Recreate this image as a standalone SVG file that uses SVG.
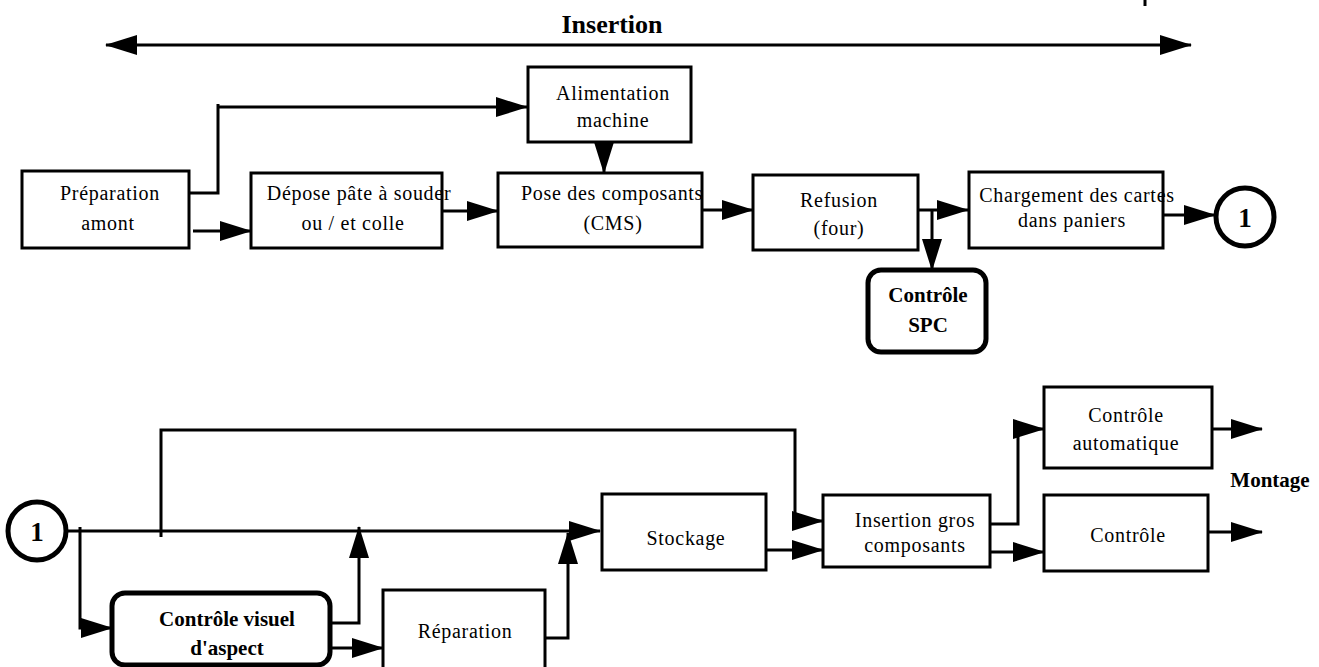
<svg xmlns="http://www.w3.org/2000/svg" width="1319" height="667" viewBox="0 0 1319 667">
<defs>
<marker id="ah" markerUnits="userSpaceOnUse" markerWidth="32" markerHeight="20" viewBox="0 0 32 20" refX="31" refY="10" orient="auto-start-reverse">
<path d="M0,0 L32,10 L0,20 z" fill="#000"/>
</marker>
</defs>
<style>
.box{fill:#fff;stroke:#000;stroke-width:3}
.rbox{fill:#fff;stroke:#000;stroke-width:5}
.circ{fill:#fff;stroke:#000;stroke-width:5}
.t{font-family:"Liberation Serif","Times New Roman",serif;font-size:20px;letter-spacing:0.7px;text-anchor:middle;fill:#000}
.b{font-family:"Liberation Serif","Times New Roman",serif;font-size:21px;font-weight:bold;text-anchor:middle;fill:#000}
.c{fill:none;stroke:#000;stroke-width:3}
.ca{fill:none;stroke:#000;stroke-width:3;marker-end:url(#ah)}
</style>
<rect width="1319" height="667" fill="#fff"/>
<g id="connectors">
<path class="c" d="M106,45 H1191" stroke-width="4" marker-start="url(#ah)" marker-end="url(#ah)"/>
<path class="c" d="M1145,0 V6" stroke-width="1.5"/>
<path class="c" d="M189,193 H218 V104"/>
<path class="ca" d="M218,107 H527"/>
<path class="ca" d="M193,231 H251"/>
<path class="ca" d="M604,142 V173"/>
<path class="ca" d="M442,211 H498"/>
<path class="ca" d="M702,210 H753"/>
<path class="ca" d="M918,210 H968"/>
<path class="ca" d="M932,210 V270"/>
<path class="ca" d="M1164,215 H1215"/>
<path class="ca" d="M66,531 H600"/>
<path class="ca" d="M80,527 V628 H112"/>
<path class="ca" d="M330,623 H359 V527"/>
<path class="ca" d="M330,648 H383"/>
<path class="ca" d="M545,638 H568 V533"/>
<path class="ca" d="M161,537 V430 H795 V521 H823"/>
<path class="ca" d="M766,550 H823"/>
<path class="ca" d="M990,524 H1018 V429 H1044"/>
<path class="ca" d="M990,552 H1044"/>
<path class="ca" d="M1212,429 H1262"/>
<path class="ca" d="M1208,532 H1262"/>
</g>
<g id="title"><text class="b" x="612" y="33" style="font-size:26px">Insertion</text></g>
<g id="preparation"><rect class="box" x="22" y="171" width="167" height="77"/>
<text class="t" x="110" y="200">Préparation</text><text class="t" x="108" y="230">amont</text></g>
<g id="alimentation"><rect class="box" x="528" y="67" width="163" height="75"/>
<text class="t" x="613" y="100">Alimentation</text><text class="t" x="613" y="127">machine</text></g>
<g id="depose"><rect class="box" x="251" y="173" width="191" height="75"/>
<text class="t" x="359" y="200">Dépose pâte à souder</text><text class="t" x="353" y="230">ou / et colle</text></g>
<g id="pose"><rect class="box" x="498" y="173" width="204" height="74"/>
<text class="t" x="612" y="200">Pose des composants</text><text class="t" x="613" y="230">(CMS)</text></g>
<g id="refusion"><rect class="box" x="753" y="175" width="165" height="75"/>
<text class="t" x="839" y="207">Refusion</text><text class="t" x="839" y="235">(four)</text></g>
<g id="chargement"><rect class="box" x="969" y="172" width="194" height="76"/>
<text class="t" x="1077" y="202">Chargement des cartes</text><text class="t" x="1072" y="227">dans paniers</text></g>
<g id="circle1top"><circle class="circ" cx="1245" cy="217" r="29"/>
<text class="b" x="1245" y="227" style="font-size:27px">1</text></g>
<g id="spc"><rect class="rbox" x="868" y="270" width="118" height="82" rx="13"/>
<text class="b" x="928" y="302">Contrôle</text><text class="b" x="928" y="332">SPC</text></g>
<g id="circle1bottom"><circle class="circ" cx="37" cy="531" r="29"/>
<text class="b" x="37" y="541" style="font-size:27px">1</text></g>
<g id="controle-visuel"><rect class="rbox" x="112" y="593" width="218" height="72" rx="13"/>
<text class="b" x="227" y="626">Contrôle visuel</text><text class="b" x="227" y="655">d'aspect</text></g>
<g id="reparation"><rect class="box" x="383" y="590" width="162" height="80"/>
<text class="t" x="465" y="638">Réparation</text></g>
<g id="stockage"><rect class="box" x="602" y="494" width="164" height="76"/>
<text class="t" x="686" y="545">Stockage</text></g>
<g id="insertion-gros"><rect class="box" x="823" y="495" width="167" height="72"/>
<text class="t" x="915" y="527">Insertion gros</text><text class="t" x="915" y="552">composants</text></g>
<g id="controle-auto"><rect class="box" x="1044" y="387" width="168" height="81"/>
<text class="t" x="1126" y="422">Contrôle</text><text class="t" x="1126" y="450">automatique</text></g>
<g id="controle"><rect class="box" x="1044" y="495" width="164" height="76"/>
<text class="t" x="1128" y="542">Contrôle</text></g>
<g id="montage"><text class="b" x="1270" y="487">Montage</text></g>
</svg>
